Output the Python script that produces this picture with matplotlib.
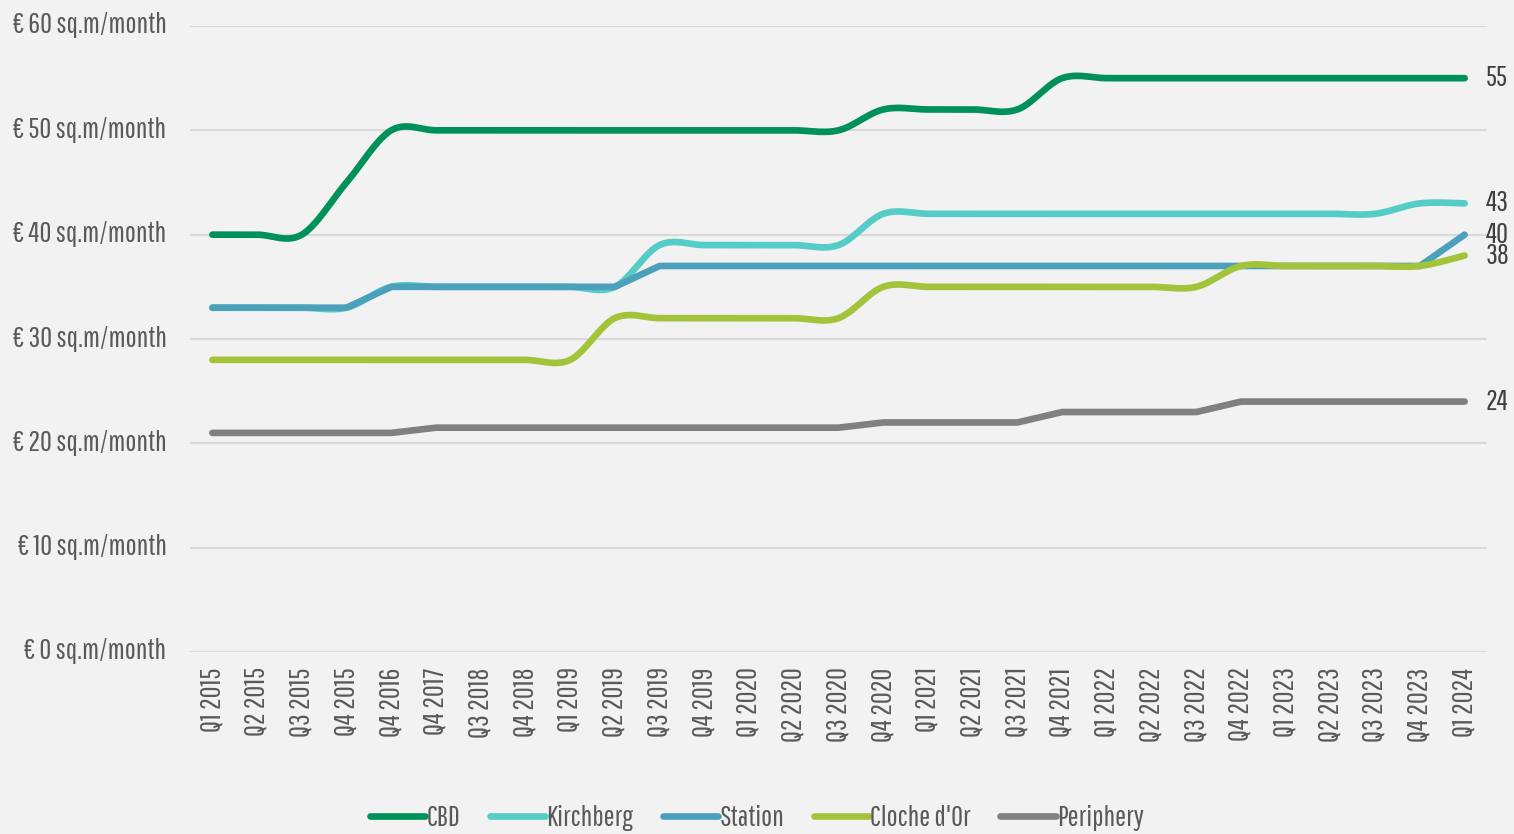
import matplotlib
matplotlib.use("Agg")
import numpy as np
import matplotlib.pyplot as plt
from matplotlib.transforms import ScaledTranslation

# Quarterly prime office rents in Luxembourg, € per sq.m per month
quarters = [
    "Q1 2015", "Q2 2015", "Q3 2015", "Q4 2015", "Q4 2016", "Q4 2017",
    "Q3 2018", "Q4 2018", "Q1 2019", "Q2 2019", "Q3 2019", "Q4 2019",
    "Q1 2020", "Q2 2020", "Q3 2020", "Q4 2020", "Q1 2021", "Q2 2021",
    "Q3 2021", "Q4 2021", "Q1 2022", "Q2 2022", "Q3 2022", "Q4 2022",
    "Q1 2023", "Q2 2023", "Q3 2023", "Q4 2023", "Q1 2024",
]
cbd = [40, 40, 40, 45, 50, 50, 50, 50, 50, 50, 50, 50, 50, 50, 50,
       52, 52, 52, 52, 55, 55, 55, 55, 55, 55, 55, 55, 55, 55]
kirchberg = [33, 33, 33, 33, 35, 35, 35, 35, 35, 35, 39, 39, 39, 39, 39,
             42, 42, 42, 42, 42, 42, 42, 42, 42, 42, 42, 42, 43, 43]
station = [33, 33, 33, 33, 35, 35, 35, 35, 35, 35, 37, 37, 37, 37, 37,
           37, 37, 37, 37, 37, 37, 37, 37, 37, 37, 37, 37, 37, 40]
cloche_dor = [28, 28, 28, 28, 28, 28, 28, 28, 28, 32, 32, 32, 32, 32, 32,
              35, 35, 35, 35, 35, 35, 35, 35, 37, 37, 37, 37, 37, 38]
periphery = [21, 21, 21, 21, 21, 21.5, 21.5, 21.5, 21.5, 21.5, 21.5, 21.5,
             21.5, 21.5, 21.5, 22, 22, 22, 22, 23, 23, 23, 23, 24, 24, 24,
             24, 24, 24]
y_ticks = [0, 10, 20, 30, 40, 50, 60]

series = [
    ("CBD", cbd, "#00915a", True),
    ("Kirchberg", kirchberg, "#55cdc6", True),
    ("Station", station, "#4ba1bb", False),
    ("Cloche d'Or", cloche_dor, "#a3c33a", True),
    ("Periphery", periphery, "#808080", False),
]

BG = "#f2f2f2"
TXT = "#595959"
plt.rcParams["font.family"] = ["Pathway Gothic One", "Barlow Condensed",
                               "DejaVu Sans"]


def smooth(xs, ys, n=24):
    """Cubic Bezier smoothing through every point (Catmull-Rom tangents)."""
    p = np.column_stack([xs, ys]).astype(float)
    ext = np.vstack([p[0], p, p[-1]])
    out = []
    t = np.linspace(0, 1, n)[:, None]
    for i in range(len(p) - 1):
        p0, p1, p2, p3 = ext[i], ext[i + 1], ext[i + 2], ext[i + 3]
        c1 = p1 + (p2 - p0) / 6.0
        c2 = p2 - (p3 - p1) / 6.0
        seg = ((1 - t) ** 3) * p1 + 3 * ((1 - t) ** 2) * t * c1 \
            + 3 * (1 - t) * t ** 2 * c2 + t ** 3 * p2
        out.append(seg if i == 0 else seg[1:])
    pts = np.vstack(out)
    return pts[:, 0], pts[:, 1]


fig = plt.figure(figsize=(15.14, 8.34), dpi=100, facecolor=BG)
ax = fig.add_axes([190 / 1514, 1 - 652 / 834, (1487 - 190) / 1514, (652 - 26) / 834])
ax.set_facecolor(BG)

x = np.arange(len(quarters))
for name, vals, color, curved in series:
    if curved:
        sx, sy = smooth(x, vals)
    else:
        sx, sy = x, np.asarray(vals, float)
    ax.plot(sx, sy, color=color, lw=4.8, solid_capstyle="round",
            solid_joinstyle="round", label=name, zorder=3)
    ax.annotate(f"{vals[-1]:g}", (x[-1], vals[-1]), xytext=(15, 0),
                textcoords="offset points", ha="left", va="center",
                fontsize=21, color="#404040", zorder=4)

ax.set_xlim(-0.5, len(quarters) - 0.5)
ax.set_ylim(0, 60)
ax.set_yticks(y_ticks)
ax.set_yticklabels([f"€ {v} sq.m/month" for v in y_ticks])
ax.set_xticks(x)
ax.set_xticklabels(quarters, rotation=90)
ax.grid(axis="y", color="#d9d9d9", lw=1.5, zorder=0)
ax.tick_params(axis="y", length=0, pad=17, labelsize=21, labelcolor=TXT)
ax.tick_params(axis="x", length=0, pad=11, labelsize=21, labelcolor=TXT)
for s in ax.spines.values():
    s.set_visible(False)
lift = ScaledTranslation(0, 3 / 100, fig.dpi_scale_trans)
for lab in ax.get_yticklabels():
    lab.set_transform(lab.get_transform() + lift)

leg = fig.legend(loc="center", bbox_to_anchor=(0.5, 1 - 818 / 834), ncol=5,
                 frameon=False, fontsize=21, handlelength=1.9,
                 handletextpad=0.05, columnspacing=1.0, labelcolor=TXT)
for h in leg.get_lines():
    h.set_linewidth(4.8)
    h.set_solid_capstyle("round")

fig.savefig("out.png", dpi=100, facecolor=BG)
